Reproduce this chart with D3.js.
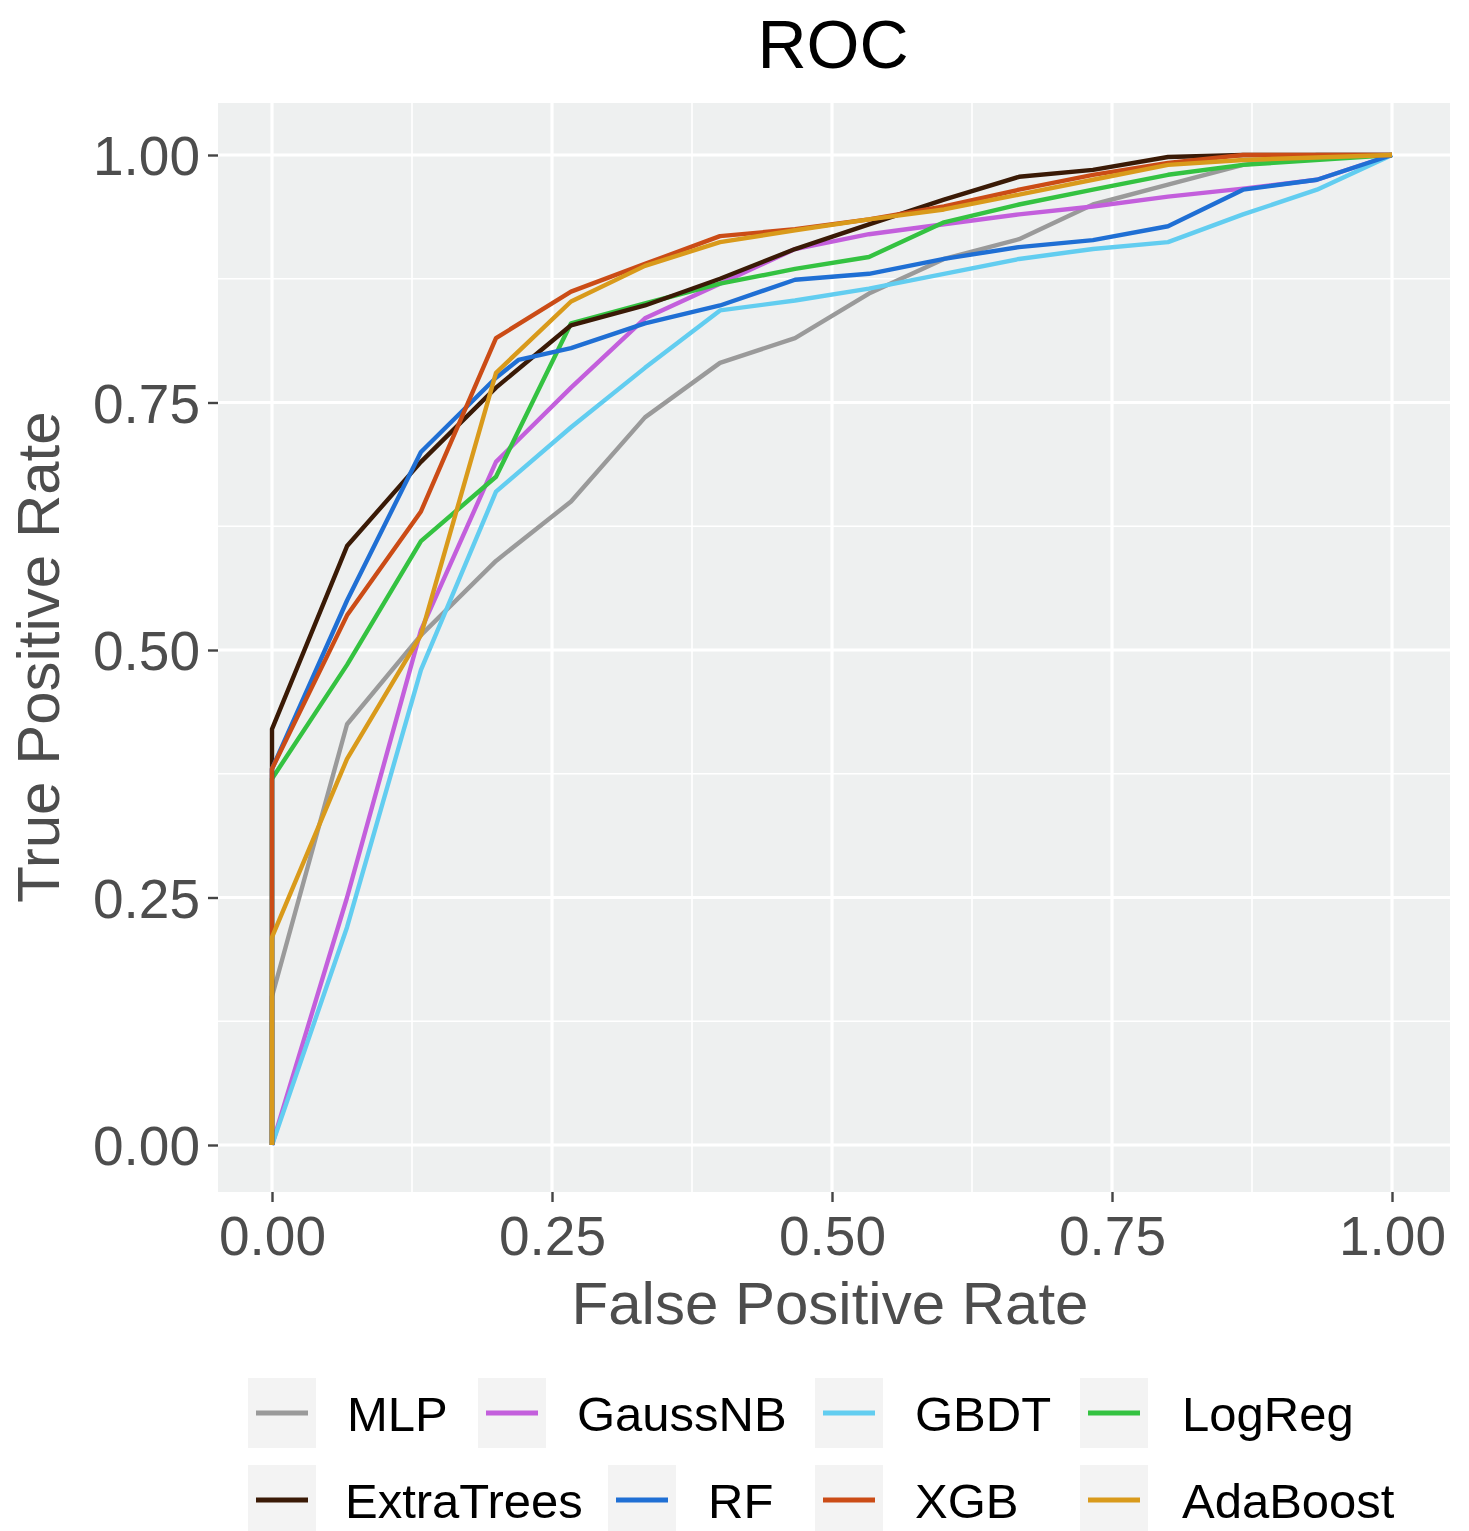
<!DOCTYPE html>
<html>
<head>
<meta charset="utf-8">
<script src="https://cdn.jsdelivr.net/npm/d3@7"></script>
<style>
  html, body { margin: 0; padding: 0; background: #ffffff; }
  svg { display: block; font-family: "Liberation Sans", Arial, Helvetica, sans-serif; }
</style>
</head>
<body>
<svg id="chart" width="1469" height="1531"></svg>
<script>
// ---- data ----
const seriesNames = ["MLP", "GaussNB", "GBDT", "LogReg", "ExtraTrees", "RF", "XGB", "AdaBoost"];
const seriesColors = ["#9a9a9a", "#c35fdc", "#62cdf0", "#34c241", "#3a1a06", "#1f6fd4", "#cb4c16", "#d99a1b"];

const mlpFPR = [0, 0, 0.067, 0.133, 0.2, 0.267, 0.333, 0.4, 0.467, 0.533, 0.6, 0.667, 0.733, 0.8, 0.867, 0.933, 1];
const mlpTPR = [0, 0.15, 0.425, 0.515, 0.59, 0.65, 0.735, 0.79, 0.815, 0.86, 0.895, 0.915, 0.95, 0.97, 0.99, 1, 1];

const gaussFPR = [0, 0.067, 0.133, 0.2, 0.267, 0.333, 0.4, 0.467, 0.533, 0.6, 0.667, 0.733, 0.8, 0.867, 0.933, 1];
const gaussTPR = [0, 0.25, 0.52, 0.69, 0.765, 0.835, 0.87, 0.905, 0.92, 0.93, 0.94, 0.948, 0.958, 0.966, 0.975, 1];

const gbdtFPR = [0, 0.067, 0.133, 0.2, 0.267, 0.333, 0.4, 0.467, 0.533, 0.6, 0.667, 0.733, 0.8, 0.867, 0.933, 1];
const gbdtTPR = [0, 0.22, 0.48, 0.66, 0.725, 0.785, 0.843, 0.853, 0.865, 0.88, 0.895, 0.905, 0.912, 0.94, 0.965, 1];

const logregFPR = [0, 0, 0.067, 0.133, 0.2, 0.267, 0.333, 0.4, 0.467, 0.533, 0.6, 0.667, 0.733, 0.8, 0.867, 1];
const logregTPR = [0, 0.37, 0.485, 0.61, 0.675, 0.83, 0.85, 0.87, 0.885, 0.897, 0.932, 0.95, 0.965, 0.98, 0.99, 1];

const extraFPR = [0, 0, 0.067, 0.133, 0.2, 0.267, 0.333, 0.4, 0.467, 0.533, 0.6, 0.667, 0.733, 0.8, 0.867, 1];
const extraTPR = [0, 0.42, 0.605, 0.69, 0.765, 0.828, 0.848, 0.875, 0.905, 0.93, 0.955, 0.978, 0.985, 0.998, 1, 1];

const rfFPR = [0, 0, 0.067, 0.133, 0.2, 0.22, 0.267, 0.333, 0.4, 0.467, 0.533, 0.6, 0.667, 0.733, 0.8, 0.867, 0.933, 1];
const rfTPR = [0, 0.38, 0.55, 0.70, 0.775, 0.793, 0.805, 0.83, 0.848, 0.874, 0.88, 0.895, 0.907, 0.914, 0.928, 0.965, 0.975, 1];

const xgbFPR = [0, 0, 0.067, 0.133, 0.2, 0.267, 0.333, 0.4, 0.467, 0.533, 0.6, 0.667, 0.733, 0.8, 0.867, 1];
const xgbTPR = [0, 0.38, 0.535, 0.64, 0.815, 0.862, 0.89, 0.918, 0.925, 0.935, 0.948, 0.965, 0.98, 0.992, 1, 1];

const adaFPR = [0, 0, 0.067, 0.133, 0.2, 0.267, 0.333, 0.4, 0.467, 0.533, 0.6, 0.667, 0.733, 0.8, 0.867, 1];
const adaTPR = [0, 0.21, 0.39, 0.515, 0.78, 0.852, 0.888, 0.912, 0.924, 0.935, 0.945, 0.96, 0.975, 0.99, 0.995, 1];

const xTicks = [0, 0.25, 0.5, 0.75, 1.0];
const yTicks = [0, 0.25, 0.5, 0.75, 1.0];
const xTickLabels = ["0.00", "0.25", "0.50", "0.75", "1.00"];
const yTickLabels = ["0.00", "0.25", "0.50", "0.75", "1.00"];
const minorTicks = [0.125, 0.375, 0.625, 0.875];

const titleText = "ROC";
const xTitle = "False Positive Rate";
const yTitle = "True Positive Rate";

// ---- assemble ----
const fprs = [mlpFPR, gaussFPR, gbdtFPR, logregFPR, extraFPR, rfFPR, xgbFPR, adaFPR];
const tprs = [mlpTPR, gaussTPR, gbdtTPR, logregTPR, extraTPR, rfTPR, xgbTPR, adaTPR];
const series = seriesNames.map((name, i) => ({
  name, color: seriesColors[i],
  points: fprs[i].map((f, j) => ({ x: f, y: tprs[i][j] }))
}));

const svg = d3.select("#chart");
svg.append("rect").attr("width", 1469).attr("height", 1531).attr("fill", "#ffffff");

const panel = { left: 218, right: 1450, top: 103, bottom: 1192 };
const x = d3.scaleLinear().domain([0, 1]).range([272, 1392]);
const y = d3.scaleLinear().domain([0, 1]).range([1145, 155]);

// panel background
svg.append("rect")
  .attr("x", panel.left).attr("y", panel.top)
  .attr("width", panel.right - panel.left).attr("height", panel.bottom - panel.top)
  .attr("fill", "#eef0f0");

const grid = svg.append("g");
// minor grid
minorTicks.forEach(t => {
  grid.append("line").attr("x1", x(t)).attr("x2", x(t)).attr("y1", panel.top).attr("y2", panel.bottom)
    .attr("stroke", "#ffffff").attr("stroke-width", 1.6);
  grid.append("line").attr("y1", y(t)).attr("y2", y(t)).attr("x1", panel.left).attr("x2", panel.right)
    .attr("stroke", "#ffffff").attr("stroke-width", 1.6);
});
// major grid
xTicks.forEach(t => {
  grid.append("line").attr("x1", x(t)).attr("x2", x(t)).attr("y1", panel.top).attr("y2", panel.bottom)
    .attr("stroke", "#ffffff").attr("stroke-width", 3.2);
});
yTicks.forEach(t => {
  grid.append("line").attr("y1", y(t)).attr("y2", y(t)).attr("x1", panel.left).attr("x2", panel.right)
    .attr("stroke", "#ffffff").attr("stroke-width", 3.2);
});

// axes
const xAxis = d3.axisBottom(x).tickValues(xTicks).tickFormat((d, i) => xTickLabels[i]).tickSize(10).tickPadding(10);
const yAxis = d3.axisLeft(y).tickValues(yTicks).tickFormat((d, i) => yTickLabels[i]).tickSize(10).tickPadding(8);

const gx = svg.append("g").attr("transform", `translate(0,${panel.bottom})`).call(xAxis);
gx.select(".domain").remove();
gx.selectAll(".tick line").attr("stroke", "#444").attr("stroke-width", 2.4);
gx.selectAll(".tick text").attr("fill", "#4d4d4d").style("font-size", "55px")
  .attr("dy", "0.78em");

const gy = svg.append("g").attr("transform", `translate(${panel.left},0)`).call(yAxis);
gy.select(".domain").remove();
gy.selectAll(".tick line").attr("stroke", "#444").attr("stroke-width", 2.4);
gy.selectAll(".tick text").attr("fill", "#4d4d4d").style("font-size", "55px")
  .attr("dy", "0.36em");

// lines
const line = d3.line().x(d => x(d.x)).y(d => y(d.y));
const lines = svg.append("g");
series.forEach(s => {
  lines.append("path").datum(s.points)
    .attr("d", line)
    .attr("fill", "none")
    .attr("stroke", s.color)
    .attr("stroke-width", 4.4)
    .attr("stroke-linejoin", "round")
    .attr("stroke-linecap", "butt");
});

// titles
svg.append("text").attr("x", 833).attr("y", 68).attr("text-anchor", "middle")
  .style("font-size", "68px").attr("fill", "#000").text(titleText);
svg.append("text").attr("x", 830).attr("y", 1324).attr("text-anchor", "middle")
  .style("font-size", "60px").attr("fill", "#4d4d4d").text(xTitle);
svg.append("text").attr("transform", "translate(59,657) rotate(-90)").attr("text-anchor", "middle")
  .style("font-size", "60px").attr("fill", "#4d4d4d").text(yTitle);

// legend
const legendPos = [
  { kx: 248, lx: 347, cy: 1413 },
  { kx: 478, lx: 577, cy: 1413 },
  { kx: 815, lx: 915, cy: 1413 },
  { kx: 1080, lx: 1182, cy: 1413 },
  { kx: 248, lx: 345, cy: 1500 },
  { kx: 608, lx: 708, cy: 1500 },
  { kx: 815, lx: 915, cy: 1500 },
  { kx: 1080, lx: 1182, cy: 1500 }
];
const leg = svg.append("g");
series.forEach((s, i) => {
  const p = legendPos[i];
  leg.append("rect").attr("x", p.kx).attr("y", p.cy - 35).attr("width", 68).attr("height", 70)
    .attr("fill", "#f3f3f3");
  leg.append("line").attr("x1", p.kx + 8).attr("x2", p.kx + 60).attr("y1", p.cy).attr("y2", p.cy)
    .attr("stroke", s.color).attr("stroke-width", 5);
  leg.append("text").attr("x", p.lx).attr("y", p.cy).attr("dy", "0.36em")
    .style("font-size", "49px").attr("fill", "#000").text(s.name);
});
</script>
</body>
</html>
